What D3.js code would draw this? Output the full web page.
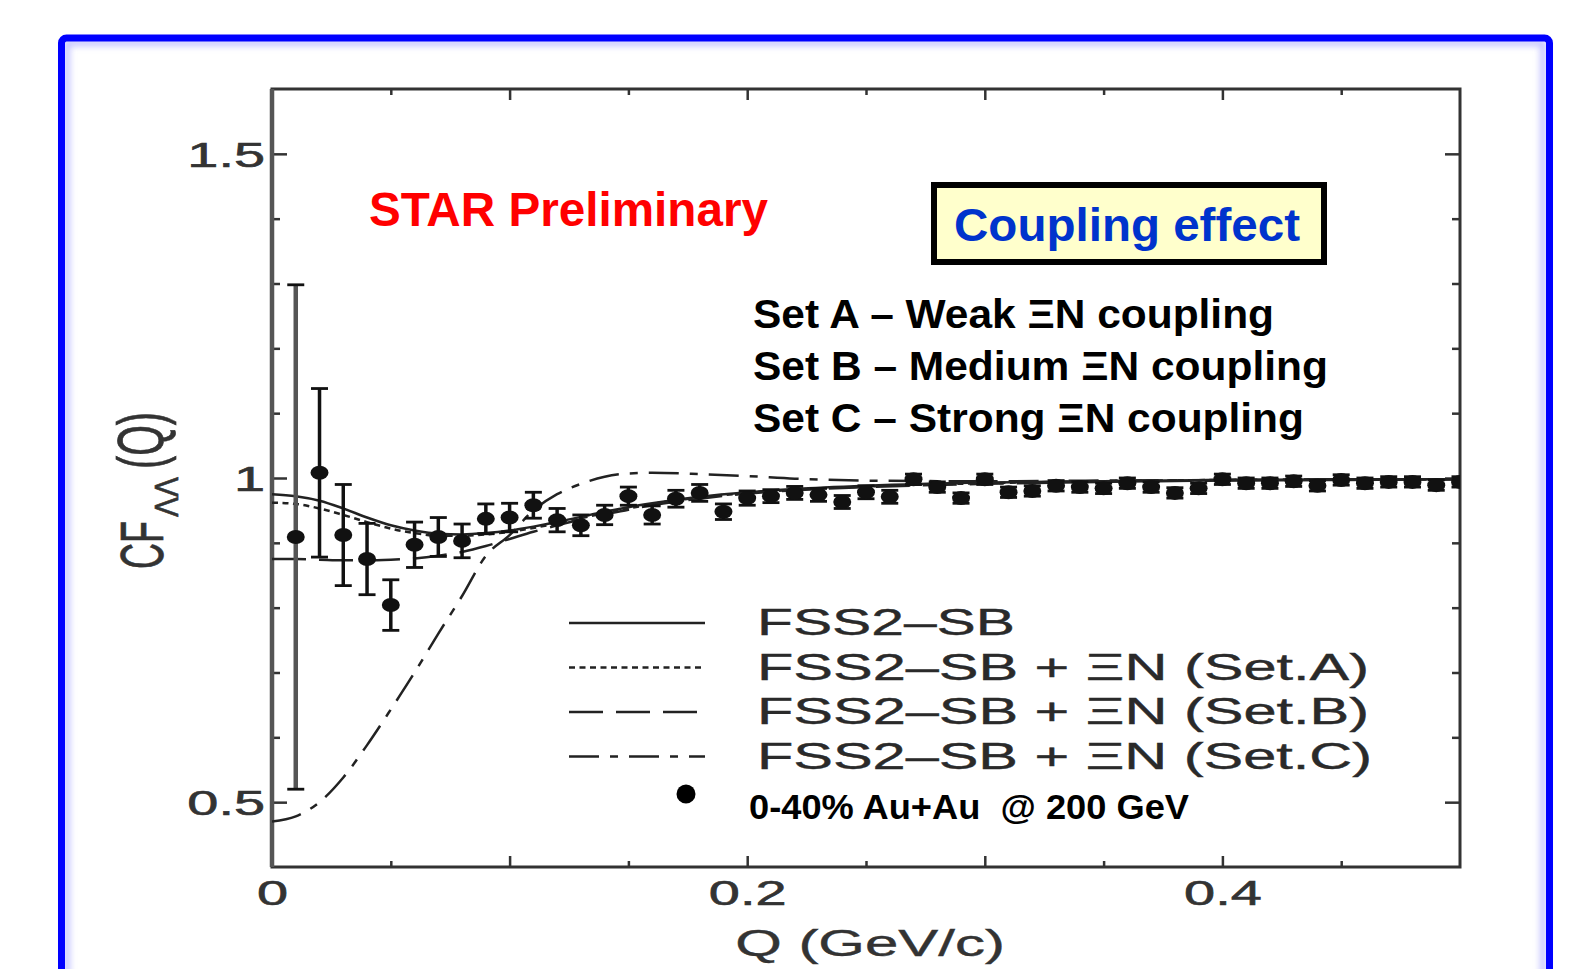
<!DOCTYPE html>
<html>
<head>
<meta charset="utf-8">
<script src="https://cdn.jsdelivr.net/npm/d3@7/dist/d3.min.js"></script>
<style>
  body{margin:0;background:#fff;}
  svg{display:block;}
</style>
</head>
<body>
<div id="chart"></div>
<script>
// measured points (Q in GeV/c, CF value, symmetric error)
var qPoints = [0.01,0.02,0.03,0.04,0.05,0.06,0.07,0.08,0.09,0.10,
               0.11,0.12,0.13,0.14,0.15,0.16,0.17,0.18,0.19,0.20,
               0.21,0.22,0.23,0.24,0.25,0.26,0.27,0.28,0.29,0.30,
               0.31,0.32,0.33,0.34,0.35,0.36,0.37,0.38,0.39,0.40,
               0.41,0.42,0.43,0.44,0.45,0.46,0.47,0.48,0.49,0.50];
var cfPoints = [0.909,1.008,0.912,0.875,0.804,0.897,0.909,0.903,0.937,0.939,
                0.958,0.935,0.927,0.943,0.972,0.943,0.968,0.977,0.948,0.969,
                0.972,0.977,0.974,0.963,0.978,0.971,0.998,0.986,0.969,0.998,
                0.978,0.980,0.988,0.986,0.984,0.992,0.986,0.977,0.984,0.998,
                0.992,0.992,0.995,0.988,0.997,0.992,0.994,0.994,0.989,0.994];
var cfErrors = [0.389,0.130,0.078,0.055,0.039,0.035,0.030,0.026,0.023,0.022,
                0.020,0.018,0.016,0.015,0.014,0.014,0.013,0.013,0.012,0.011,
                0.010,0.010,0.010,0.010,0.010,0.010,0.008,0.008,0.008,0.008,
                0.008,0.008,0.008,0.008,0.008,0.008,0.008,0.008,0.008,0.008,
                0.008,0.008,0.008,0.008,0.008,0.008,0.008,0.008,0.008,0.008];

// model curves
var curveQ = [0,0.01,0.02,0.03,0.04,0.05,0.06,0.07,0.08,0.09,0.10,0.11,0.12,0.13,
              0.14,0.15,0.16,0.18,0.20,0.22,0.25,0.30,0.35,0.40,0.45,0.50];
var fss2 = [0.975,0.972,0.965,0.953,0.939,0.927,0.919,0.914,0.913,0.915,0.919,0.925,0.932,0.940,
            0.948,0.955,0.961,0.971,0.978,0.983,0.988,0.993,0.995,0.997,0.998,0.998];
var setA = [0.962,0.960,0.953,0.943,0.932,0.922,0.915,0.911,0.911,0.913,0.917,0.923,0.930,0.938,
            0.946,0.953,0.960,0.970,0.977,0.982,0.987,0.992,0.995,0.997,0.998,0.998];
var setB = [0.875,0.875,0.874,0.873,0.873,0.874,0.876,0.880,0.886,0.895,0.906,0.917,0.927,0.936,
            0.944,0.951,0.958,0.968,0.976,0.981,0.986,0.991,0.994,0.996,0.997,0.998];
var setC = [0.470,0.478,0.500,0.538,0.588,0.643,0.700,0.760,0.818,0.880,0.912,0.950,0.975,0.991,
            1.002,1.007,1.008,1.006,1.003,0.999,0.996,0.995,0.996,0.997,0.998,0.998];

var legendLabels = ["FSS2\u2013SB","FSS2\u2013SB + \u039EN (Set.A)","FSS2\u2013SB + \u039EN (Set.B)","FSS2\u2013SB + \u039EN (Set.C)"];
var legendWidths = [258,612,612,615];
var legendDash = ["none","6,4.5","34,13","30,11,8,11"];
var setLines = ["Set A \u2013 Weak \u039EN coupling","Set B \u2013 Medium \u039EN coupling","Set C \u2013 Strong \u039EN coupling"];
var setWidths = [521,575,551];
var xTickLabels = [0,0.2,0.4];
var yTickLabels = [0.5,1,1.5];

var width = 1594, height = 969;
var sx = 1.62; // the original figure is stretched sideways
var ink = "#222";
var font = "'Liberation Sans', Arial, Helvetica, sans-serif";

var svg = d3.select("#chart").append("svg")
    .attr("width",width)
    .attr("height",height);

var defs = svg.append("defs");
defs.append("clipPath").attr("id","plotclip")
    .append("rect").attr("x",272).attr("y",89).attr("width",1188).attr("height",778);
defs.append("filter").attr("id","glow")
    .append("feGaussianBlur").attr("stdDeviation",3);

// blue frame
svg.append("rect")
    .attr("x",67).attr("y",43).attr("width",1476).attr("height",1000)
    .attr("fill","none").attr("stroke","#8f8fff").attr("stroke-opacity",0.55)
    .attr("stroke-width",6).attr("filter","url(#glow)");
svg.append("rect")
    .attr("x",61.5).attr("y",38).attr("width",1488).attr("height",1000)
    .attr("rx",5)
    .attr("fill","none").attr("stroke","#0000ff").attr("stroke-width",7);

var xScale = d3.scaleLinear().domain([0,0.5]).range([272,1460]);
var yScale = d3.scaleLinear().domain([0.4,1.6]).range([867,89]);

// ticks on all four sides, pointing inwards
var xMajor = [0.1,0.2,0.3,0.4];
var xMinor = [0.05,0.15,0.25,0.35,0.45];
var yMajor = [0.5,1,1.5];
var yMinor = [0.6,0.7,0.8,0.9,1.1,1.2,1.3,1.4];

function tickGroup(axis, transform){
  var g = svg.append("g").attr("transform",transform).call(axis);
  g.select(".domain").remove();
  g.selectAll("line").attr("stroke","#333").attr("stroke-width",2.5);
  g.selectAll("text").remove();
  return g;
}
tickGroup(d3.axisBottom(xScale).tickValues(xMajor).tickSize(-11), "translate(0,867)");
tickGroup(d3.axisBottom(xScale).tickValues(xMinor).tickSize(-6), "translate(0,867)");
tickGroup(d3.axisTop(xScale).tickValues(xMajor).tickSize(-11), "translate(0,89)");
tickGroup(d3.axisTop(xScale).tickValues(xMinor).tickSize(-6), "translate(0,89)");
tickGroup(d3.axisLeft(yScale).tickValues(yMajor).tickSize(-15), "translate(272,0)");
tickGroup(d3.axisLeft(yScale).tickValues(yMinor).tickSize(-8), "translate(272,0)");
tickGroup(d3.axisRight(yScale).tickValues(yMajor).tickSize(-15), "translate(1460,0)");
tickGroup(d3.axisRight(yScale).tickValues(yMinor).tickSize(-8), "translate(1460,0)");

// frame of the plot
svg.append("rect")
    .attr("x",272).attr("y",89).attr("width",1188).attr("height",778)
    .attr("fill","none").attr("stroke","#333").attr("stroke-width",3);
svg.append("line")
    .attr("x1",272).attr("x2",272).attr("y1",89).attr("y2",867)
    .attr("stroke","#555").attr("stroke-width",4.5);

// tick labels
var xLab = svg.append("g").attr("transform","translate(0,867)")
    .call(d3.axisBottom(xScale).tickValues(xTickLabels).tickSize(0).tickFormat(d3.format("")));
xLab.select(".domain").remove();
xLab.selectAll("text")
    .attr("y",0).attr("dy",0)
    .attr("transform","translate(0,38) scale("+sx+",1)")
    .attr("font-family",font).attr("font-size",34.5).attr("fill","#333")
    .attr("stroke","#333").attr("stroke-width",0.6);

var yLab = svg.append("g").attr("transform","translate(272,0)")
    .call(d3.axisLeft(yScale).tickValues(yTickLabels).tickSize(0).tickFormat(d3.format("")));
yLab.select(".domain").remove();
yLab.selectAll("text")
    .attr("x",0).attr("dy","0.36em")
    .attr("transform","translate(-7,0) scale("+sx+",1)")
    .attr("font-family",font).attr("font-size",34.5).attr("fill","#333")
    .attr("stroke","#333").attr("stroke-width",0.6);

// axis titles
svg.append("text")
    .attr("transform","translate(870,956) scale(1.62,1)")
    .attr("text-anchor","middle")
    .attr("font-family",font).attr("font-size",37).attr("fill","#333")
    .attr("stroke","#333").attr("stroke-width",0.4)
    .text("Q (GeV/c)");

var yt = svg.append("g")
    .attr("transform","translate(163,570) scale(1.7,1) rotate(-90)")
    .attr("font-family",font).attr("fill","#333")
    .attr("stroke","#333").attr("stroke-width",0.4);
yt.append("text").attr("x",1).attr("y",0).attr("font-size",36).text("CF");
yt.append("text").attr("x",53).attr("y",9).attr("font-size",19)
    .attr("textLength",40).attr("lengthAdjust","spacingAndGlyphs").text("\u039B\u039B");
yt.append("text").attr("x",101).attr("y",0).attr("font-size",38)
    .attr("textLength",57).attr("lengthAdjust","spacingAndGlyphs").text("(Q)");

// model curves
var plot = svg.append("g").attr("clip-path","url(#plotclip)");
var line = d3.line()
    .x(function(d){ return xScale(d[0]); })
    .y(function(d){ return yScale(d[1]); })
    .curve(d3.curveMonotoneX);
[fss2,setA,setB,setC].forEach(function(c,k){
  plot.append("path")
      .datum(curveQ.map(function(q,i){ return [q,c[i]]; }))
      .attr("d",line)
      .attr("fill","none")
      .attr("stroke",ink)
      .attr("stroke-width",2.5)
      .attr("stroke-dasharray",legendDash[k]);
});

// data points with error bars
var pts = qPoints.map(function(q,i){ return {q:q,v:cfPoints[i],e:cfErrors[i]}; });
var bars = plot.append("g").selectAll("g").data(pts).enter().append("g");
bars.append("line")
    .attr("x1",function(d){ return xScale(d.q); })
    .attr("x2",function(d){ return xScale(d.q); })
    .attr("y1",function(d){ return yScale(d.v+d.e); })
    .attr("y2",function(d){ return yScale(d.v-d.e); })
    .attr("stroke",function(d,i){ return i==0 ? "#555" : "#111"; })
    .attr("stroke-width",function(d,i){ return i==0 ? 4.5 : 3.5; });
[1,-1].forEach(function(s){
  bars.append("line")
      .attr("x1",function(d){ return xScale(d.q)-8.5; })
      .attr("x2",function(d){ return xScale(d.q)+8.5; })
      .attr("y1",function(d){ return yScale(d.v+s*d.e); })
      .attr("y2",function(d){ return yScale(d.v+s*d.e); })
      .attr("stroke","#111")
      .attr("stroke-width",2.8);
});
bars.append("ellipse")
    .attr("cx",function(d){ return xScale(d.q); })
    .attr("cy",function(d){ return yScale(d.v); })
    .attr("rx",9).attr("ry",7)
    .attr("fill","#111");

// legend
var leg = svg.append("g");
legendLabels.forEach(function(t,i){
  var ly = 623 + i*44.5;
  leg.append("line")
      .attr("x1",569).attr("x2",705).attr("y1",ly).attr("y2",ly)
      .attr("stroke",ink).attr("stroke-width",2.5)
      .attr("stroke-dasharray",legendDash[i]);
  leg.append("text")
      .attr("x",757).attr("y",ly+12)
      .attr("textLength",legendWidths[i]).attr("lengthAdjust","spacingAndGlyphs")
      .attr("font-family",font).attr("font-size",37.5).attr("fill","#2a2a2a")
      .attr("stroke","#2a2a2a").attr("stroke-width",0.4)
      .text(t);
});
leg.append("circle").attr("cx",686).attr("cy",794).attr("r",9.5).attr("fill","#000");
leg.append("text")
    .attr("x",749).attr("y",819)
    .attr("textLength",440).attr("lengthAdjust","spacingAndGlyphs")
    .attr("font-family",font).attr("font-weight","bold").attr("font-size",34.5).attr("fill","#000")
    .attr("xml:space","preserve")
    .text("0-40% Au+Au  @ 200 GeV");

// annotations
svg.append("text")
    .attr("x",369).attr("y",226)
    .attr("textLength",399).attr("lengthAdjust","spacingAndGlyphs")
    .attr("font-family",font).attr("font-weight","bold").attr("font-size",47.5).attr("fill","#ff0000")
    .text("STAR Preliminary");

svg.append("rect")
    .attr("x",934).attr("y",185).attr("width",390).attr("height",77)
    .attr("fill","#ffffcc").attr("stroke","#000").attr("stroke-width",6);
svg.append("text")
    .attr("x",954).attr("y",241)
    .attr("textLength",346).attr("lengthAdjust","spacingAndGlyphs")
    .attr("font-family",font).attr("font-weight","bold").attr("font-size",47).attr("fill","#0033cc")
    .text("Coupling effect");

setLines.forEach(function(t,i){
  svg.append("text")
      .attr("x",753).attr("y",328+i*52)
      .attr("textLength",setWidths[i]).attr("lengthAdjust","spacingAndGlyphs")
      .attr("font-family",font).attr("font-weight","bold").attr("font-size",40).attr("fill","#000")
      .text(t);
});
</script>
</body>
</html>
